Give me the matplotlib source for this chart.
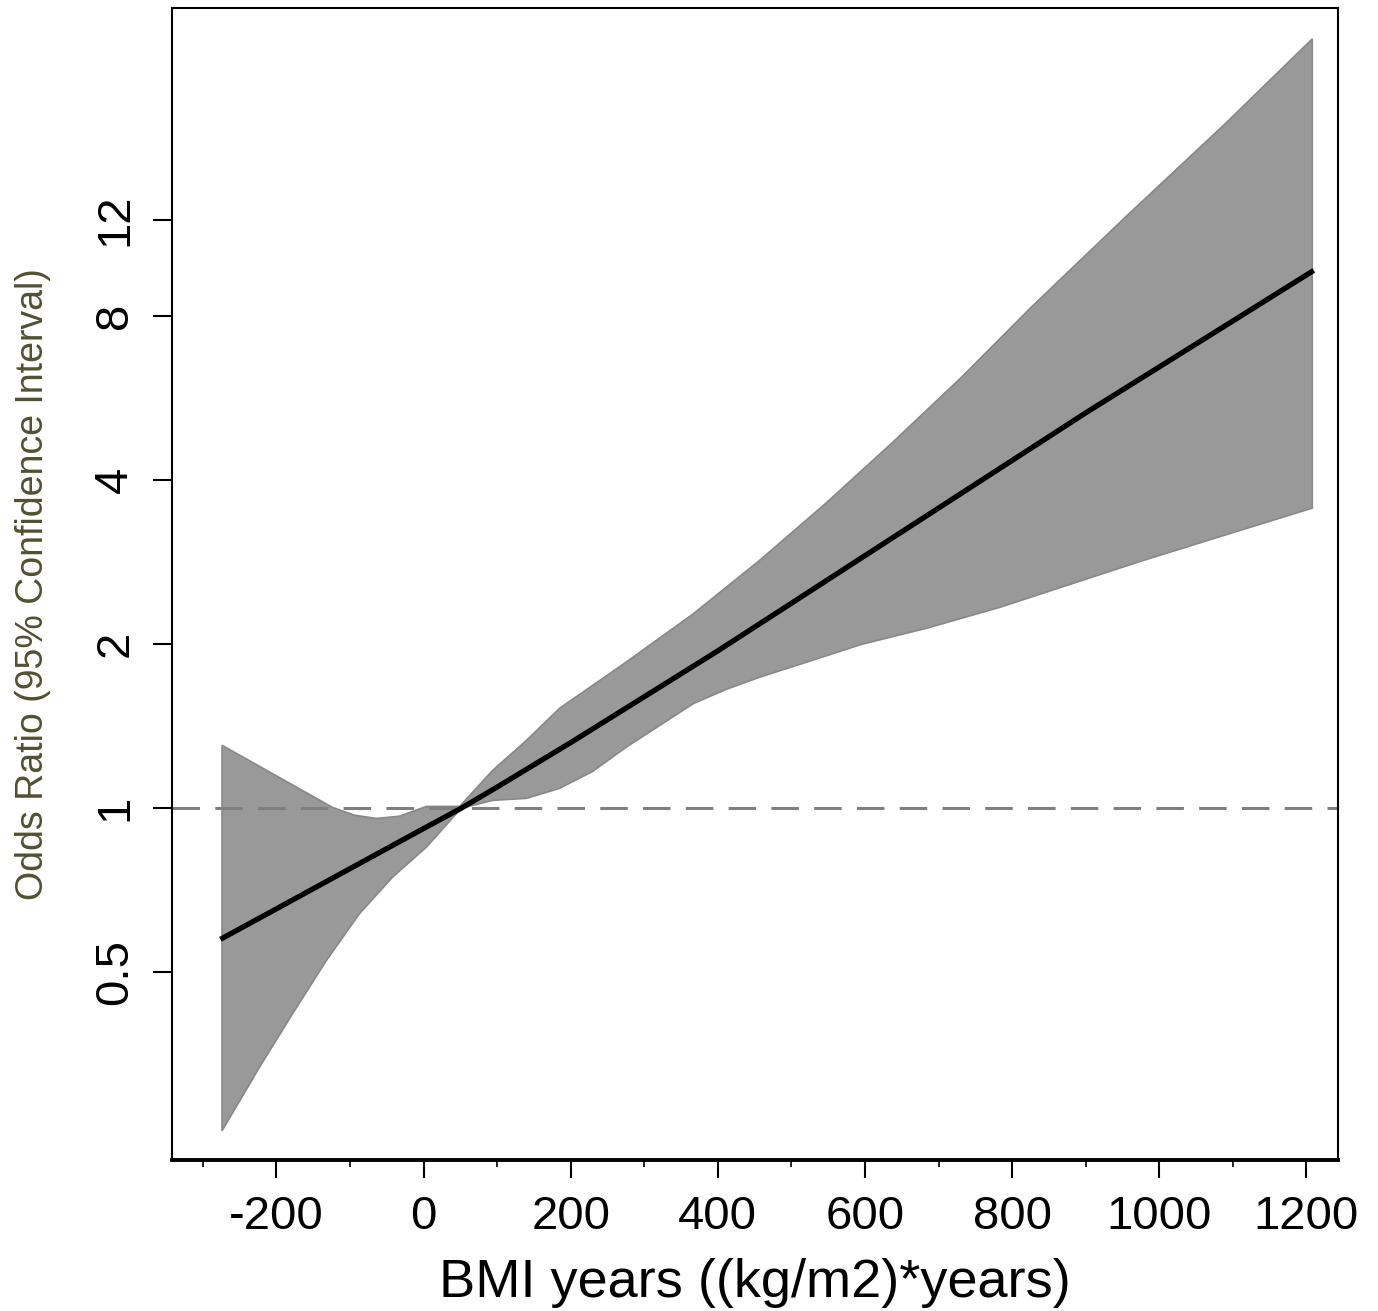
import numpy as np
import matplotlib.pyplot as plt
from matplotlib.ticker import NullLocator

plt.rcParams['font.family'] = ['Liberation Sans', 'DejaVu Sans']

# fitted odds ratio along BMI years
bmi_years = [-273, -200, -100, 0, 51, 100, 200, 300, 400, 500, 600,
             700, 800, 900, 1000, 1100, 1207]
odds_ratio = [0.578, 0.654, 0.775, 0.918, 1.0, 1.094, 1.32, 1.602, 1.945,
              2.378, 2.908, 3.555, 4.347, 5.315, 6.453, 7.835, 9.646]

# 95% confidence limits
upper_x = [-274, -124, -94, -64, -33, 4, 49, 94, 140, 185, 275, 366,
           457, 547, 638, 730, 825, 957, 1088, 1208]
upper_ci = [1.305, 1.004, 0.971, 0.958, 0.967, 1.008, 1.008, 1.174,
            1.333, 1.526, 1.853, 2.271, 2.852, 3.630, 4.698, 6.156, 8.28,
            12.26, 17.94, 25.8]
lower_x = [-274, -223, -178, -132, -87, -42, 4, 51, 94, 140, 185, 230, 276,
           367, 412, 457, 512, 596, 684, 784, 975, 1111, 1208]
lower_ci = [0.256, 0.335, 0.420, 0.526, 0.641, 0.748, 0.849, 1.0, 1.034,
            1.043, 1.088, 1.169, 1.296, 1.557, 1.654, 1.740, 1.838, 2.0,
            2.140, 2.339, 2.840, 3.238, 3.554]

xticks = [-200, 0, 200, 400, 600, 800, 1000, 1200]
xtick_labels = ['-200', '0', '200', '400', '600', '800', '1000', '1200']
xminor = [-300, -100, 100, 300, 500, 700, 900, 1100]
yticks = [0.5, 1, 2, 4, 8, 12]
ytick_labels = ['0.5', '1', '2', '4', '8', '12']

fig = plt.figure(figsize=(13.78, 13.11), dpi=100)
ax = fig.add_axes([172 / 1378, 1 - 1160 / 1311, 1166 / 1378, 1152 / 1311])
ax.set_yscale('log')

# confidence band as one polygon
band_x = np.concatenate([upper_x, lower_x[::-1]])
band_y = np.concatenate([upper_ci, lower_ci[::-1]])
ax.fill(band_x, band_y, facecolor='#999999', edgecolor='#888888', lw=1.2, zorder=1)

ax.axhline(1, color='#7f7f7f', lw=2.2, linestyle=(0, (9, 5)), zorder=2)
ax.plot(bmi_years, odds_ratio, color='black', lw=3.8, zorder=3)

ax.set_xlim(-342, 1243)
ax.set_ylim(0.2263, 29.4)

ax.set_xticks(xticks)
ax.set_xticklabels(xtick_labels)
ax.set_xticks(xminor, minor=True)
ax.set_yticks(yticks)
ax.set_yticklabels(ytick_labels, rotation=90, va='center')
ax.yaxis.set_minor_locator(NullLocator())

ax.tick_params(axis='x', which='major', length=13, width=1.5, pad=12, labelsize=34)
ax.tick_params(axis='x', which='minor', length=5, width=1.2)
ax.tick_params(axis='y', which='major', length=14, width=1.5, pad=11, labelsize=34)

for side in ['left', 'top', 'right']:
    ax.spines[side].set_linewidth(1.5)
ax.spines['bottom'].set_linewidth(2.8)

ax.set_xlabel('BMI years ((kg/m2)*years)', fontsize=39, labelpad=14)
ax.set_ylabel('Odds Ratio (95% Confidence Interval)', fontsize=27, color='#505032')
ax.yaxis.set_label_coords(-0.104, 0.5)

fig.savefig('out.png', dpi=100)
